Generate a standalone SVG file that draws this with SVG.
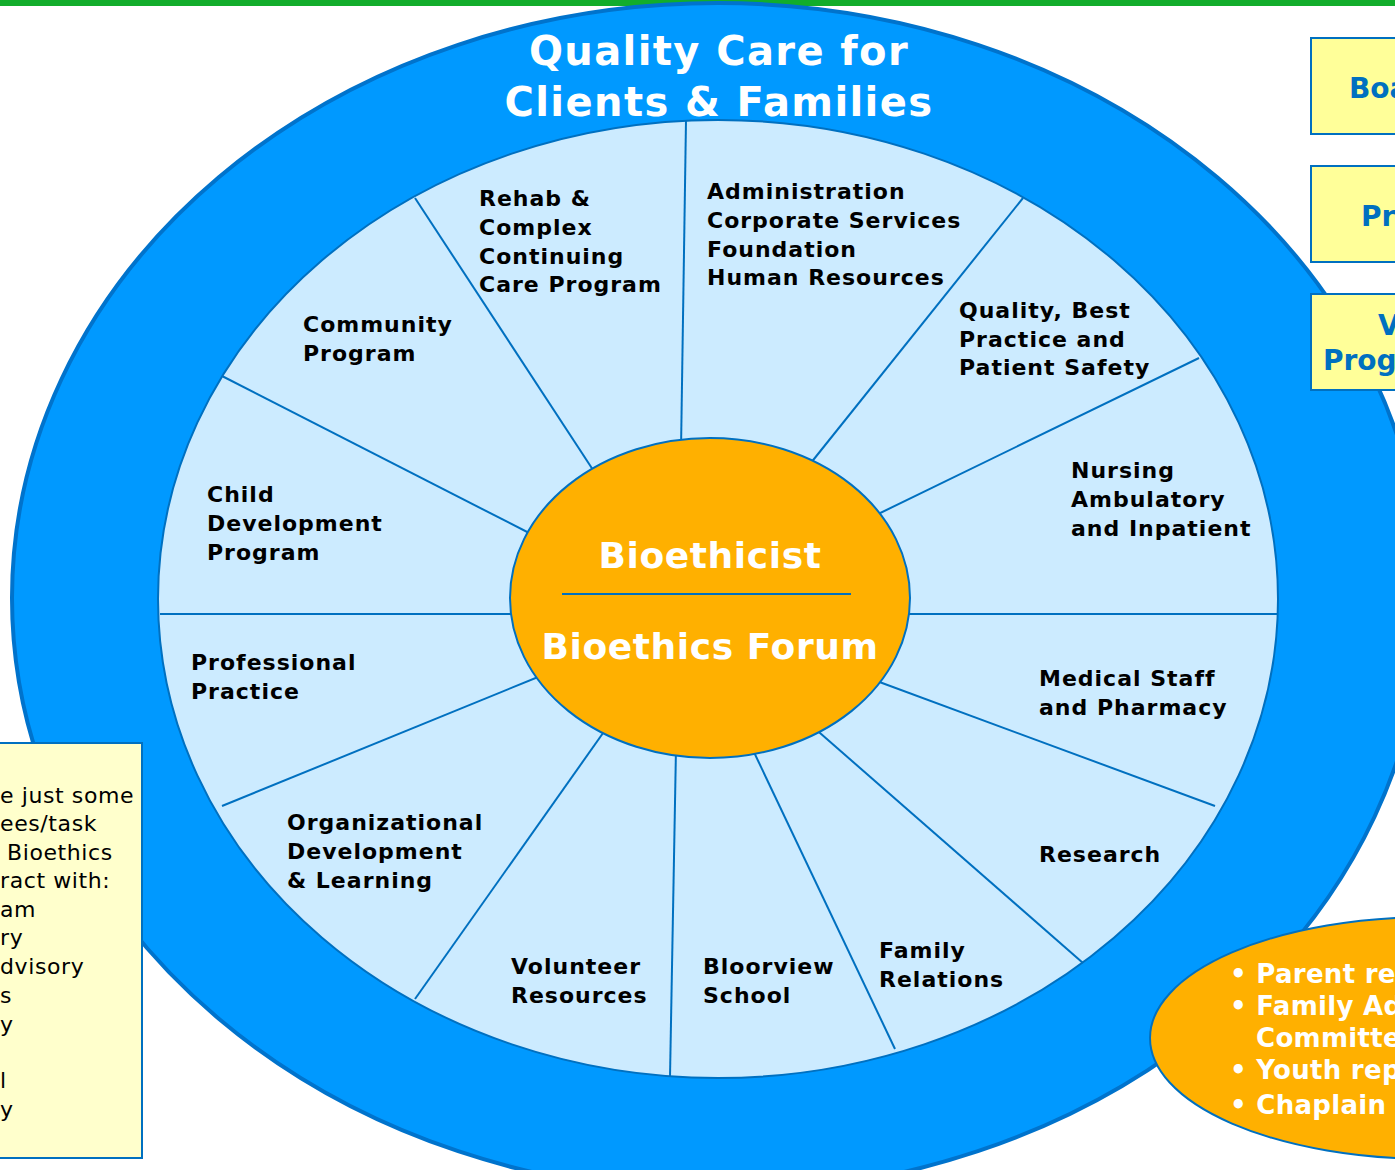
<svg xmlns="http://www.w3.org/2000/svg" width="1395" height="1170" viewBox="0 0 1395 1170">
<style>
.lbl{font-family:"DejaVu Sans",Verdana,sans-serif;font-weight:bold;font-size:22px;letter-spacing:1px;fill:#000}
.ttl{font-family:"DejaVu Sans",Verdana,sans-serif;font-weight:bold;font-size:40px;letter-spacing:1.4px;fill:#fff;text-anchor:middle}
.ctr{font-family:"DejaVu Sans",Verdana,sans-serif;font-weight:bold;font-size:36px;letter-spacing:0.6px;fill:#fff;text-anchor:middle}
.box{font-family:"DejaVu Sans",Verdana,sans-serif;font-weight:bold;font-size:28px;fill:#0070C0}
.note{font-family:"DejaVu Sans",Verdana,sans-serif;font-size:22px;letter-spacing:0.6px;fill:#000}
.bul{font-family:"DejaVu Sans",Verdana,sans-serif;font-weight:bold;font-size:26px;letter-spacing:0.3px;fill:#fff}
.spoke{stroke:#0070C0;stroke-width:2;fill:none}
</style>
<rect x="0" y="0" width="1395" height="6" fill="#12AD2B"/>
<g id="outer-ring">
<ellipse cx="718" cy="598" rx="706" ry="595" fill="#0099FF" stroke="#0073CC" stroke-width="4"/>
<text class="ttl" x="719" y="65">Quality Care for</text>
<text class="ttl" x="719" y="116">Clients &amp; Families</text>
</g>
<g id="inner-ring">
<ellipse cx="718" cy="599" rx="560" ry="479" fill="#CCEBFF" stroke="#0070C0" stroke-width="2"/>
</g>
<g id="connectors">
<line class="spoke" x1="686" y1="120" x2="681" y2="450"/>
<line class="spoke" x1="415" y1="198" x2="597" y2="476"/>
<line class="spoke" x1="1023" y1="198" x2="806" y2="469"/>
<line class="spoke" x1="222" y1="376" x2="535" y2="536"/>
<line class="spoke" x1="1199" y1="358" x2="872" y2="517"/>
<line class="spoke" x1="160" y1="614" x2="520" y2="614"/>
<line class="spoke" x1="905" y1="614" x2="1278" y2="614"/>
<line class="spoke" x1="222" y1="806" x2="543" y2="675"/>
<line class="spoke" x1="1215" y1="806" x2="874" y2="680"/>
<line class="spoke" x1="415" y1="999" x2="608" y2="726"/>
<line class="spoke" x1="1083" y1="963" x2="812" y2="726"/>
<line class="spoke" x1="670" y1="1077" x2="676" y2="748"/>
<line class="spoke" x1="895" y1="1049" x2="752" y2="748"/>
</g>
<g id="center">
<ellipse cx="710" cy="598" rx="200" ry="160" fill="#FFB000" stroke="#0070C0" stroke-width="2"/>
<line x1="562" y1="594" x2="851" y2="594" stroke="#0070C0" stroke-width="2"/>
<text class="ctr" x="710" y="568">Bioethicist</text>
<text class="ctr" x="710" y="659">Bioethics Forum</text>
</g>
<g id="seg-rehab"><text class="lbl" x="479" y="206">Rehab &amp;</text><text class="lbl" x="479" y="235">Complex</text><text class="lbl" x="479" y="264">Continuing</text><text class="lbl" x="479" y="292">Care Program</text></g>
<g id="seg-admin"><text class="lbl" x="707" y="199">Administration</text><text class="lbl" x="707" y="228">Corporate Services</text><text class="lbl" x="707" y="257">Foundation</text><text class="lbl" x="707" y="285">Human Resources</text></g>
<g id="seg-quality"><text class="lbl" x="959" y="318">Quality, Best</text><text class="lbl" x="959" y="347">Practice and</text><text class="lbl" x="959" y="375">Patient Safety</text></g>
<g id="seg-community"><text class="lbl" x="303" y="332">Community</text><text class="lbl" x="303" y="361">Program</text></g>
<g id="seg-child"><text class="lbl" x="207" y="502">Child</text><text class="lbl" x="207" y="531">Development</text><text class="lbl" x="207" y="560">Program</text></g>
<g id="seg-nursing"><text class="lbl" x="1071" y="478">Nursing</text><text class="lbl" x="1071" y="507">Ambulatory</text><text class="lbl" x="1071" y="536">and Inpatient</text></g>
<g id="seg-professional"><text class="lbl" x="191" y="670">Professional</text><text class="lbl" x="191" y="699">Practice</text></g>
<g id="seg-medical"><text class="lbl" x="1039" y="686">Medical Staff</text><text class="lbl" x="1039" y="715">and Pharmacy</text></g>
<g id="seg-orgdev"><text class="lbl" x="287" y="830">Organizational</text><text class="lbl" x="287" y="859">Development</text><text class="lbl" x="287" y="888">&amp; Learning</text></g>
<g id="seg-research"><text class="lbl" x="1039" y="862">Research</text></g>
<g id="seg-volunteer"><text class="lbl" x="511" y="974">Volunteer</text><text class="lbl" x="511" y="1003">Resources</text></g>
<g id="seg-school"><text class="lbl" x="703" y="974">Bloorview</text><text class="lbl" x="703" y="1003">School</text></g>
<g id="seg-family"><text class="lbl" x="879" y="958">Family</text><text class="lbl" x="879" y="987">Relations</text></g>
<g id="box-1"><rect x="1311" y="38" width="100" height="96" fill="#FFFF99" stroke="#0070C0" stroke-width="2"/><text class="box" x="1349" y="98">Boa</text></g>
<g id="box-2"><rect x="1311" y="166" width="100" height="96" fill="#FFFF99" stroke="#0070C0" stroke-width="2"/><text class="box" x="1361" y="226">Pr</text></g>
<g id="box-3"><rect x="1311" y="294" width="100" height="96" fill="#FFFF99" stroke="#0070C0" stroke-width="2"/><text class="box" x="1378" y="335">V</text><text class="box" x="1323" y="370">Prog</text></g>
<g id="note-box">
<rect x="-10" y="743" width="152" height="415" fill="#FFFFCC" stroke="#0070C0" stroke-width="2"/>
<text class="note" x="0" y="803">e just some</text>
<text class="note" x="0" y="831">ees/task</text>
<text class="note" x="7" y="860">Bioethics</text>
<text class="note" x="0" y="888">ract with:</text>
<text class="note" x="0" y="917">am</text>
<text class="note" x="0" y="945">ry</text>
<text class="note" x="0" y="974">dvisory</text>
<text class="note" x="0" y="1003">s</text>
<text class="note" x="0" y="1032">y</text>
<text class="note" x="0" y="1088">l</text>
<text class="note" x="0" y="1117">y</text>
</g>
<g id="reps">
<ellipse cx="1430" cy="1038" rx="280" ry="121" fill="#FFB000" stroke="#0070C0" stroke-width="2"/>
<text class="bul" x="1230" y="983">• Parent rep</text>
<text class="bul" x="1230" y="1015">• Family Ad</text>
<text class="bul" x="1256" y="1047">Committe</text>
<text class="bul" x="1230" y="1079">• Youth rep</text>
<text class="bul" x="1230" y="1114">• Chaplain</text>
</g>
</svg>
